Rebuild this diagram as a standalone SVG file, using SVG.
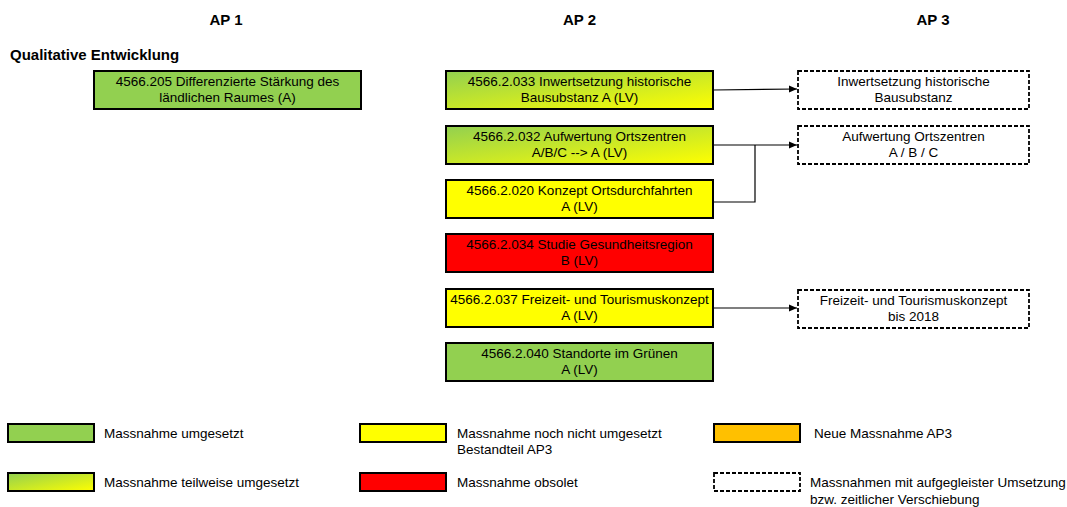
<svg xmlns="http://www.w3.org/2000/svg" width="1067" height="507" viewBox="0 0 1067 507">
  <defs>
    <linearGradient id="partial" x1="0" y1="0" x2="1" y2="1">
      <stop offset="0" stop-color="#92D050"/>
      <stop offset="1" stop-color="#FFFF00"/>
    </linearGradient>
    <marker id="arrow" markerWidth="8" markerHeight="8" refX="8" refY="4" orient="auto" markerUnits="userSpaceOnUse">
      <path d="M0,0.5 L8,4 L0,7.5 Z" fill="#000"/>
    </marker>
  </defs>
  <style>
    text { font-family: "Liberation Sans", Arial, sans-serif; font-size: 13.5px; fill: #000; }
    .hdr { font-weight: bold; font-size: 15px; }
    .c { text-anchor: middle; }
    .box { stroke: #000; stroke-width: 2; }
    .done { fill: #92D050; }
    .part { fill: url(#partial); }
    .open { fill: #FFFF00; }
    .obs { fill: #FF0000; }
    .new { fill: #FFC000; }
    .dash { fill: #fff; stroke: #000; stroke-width: 1.8; stroke-dasharray: 4 2; }
    .conn { fill: none; stroke: #000; stroke-width: 1.2; }
  </style>
  <rect width="1067" height="507" fill="#fff"/>

  <!-- column headers -->
  <g id="headers">
    <text class="hdr c" x="226" y="25">AP 1</text>
    <text class="hdr c" x="579.5" y="25">AP 2</text>
    <text class="hdr c" x="933" y="25">AP 3</text>
    <text class="hdr" x="10" y="60">Qualitative Entwicklung</text>
  </g>

  <!-- AP 1 -->
  <g id="n4566-205">
    <rect class="box done" x="94" y="71" width="267" height="38"/>
    <text class="c" x="227.5" y="86">4566.205 Differenzierte Stärkung des</text>
    <text class="c" x="227.5" y="102">ländlichen Raumes (A)</text>
  </g>

  <!-- AP 2 -->
  <g id="n4566-2-033">
    <rect class="box part" x="446" y="71" width="267" height="38"/>
    <text class="c" x="579.5" y="86">4566.2.033 Inwertsetzung historische</text>
    <text class="c" x="579.5" y="102">Bausubstanz A (LV)</text>
  </g>
  <g id="n4566-2-032">
    <rect class="box part" x="446" y="126" width="267" height="38"/>
    <text class="c" x="579.5" y="141">4566.2.032 Aufwertung Ortszentren</text>
    <text class="c" x="579.5" y="157">A/B/C --&gt; A (LV)</text>
  </g>
  <g id="n4566-2-020">
    <rect class="box open" x="446" y="180" width="267" height="38"/>
    <text class="c" x="579.5" y="195">4566.2.020 Konzept Ortsdurchfahrten</text>
    <text class="c" x="579.5" y="211">A (LV)</text>
  </g>
  <g id="n4566-2-034">
    <rect class="box obs" x="446" y="234" width="267" height="38"/>
    <text class="c" x="579.5" y="249">4566.2.034 Studie Gesundheitsregion</text>
    <text class="c" x="579.5" y="265">B (LV)</text>
  </g>
  <g id="n4566-2-037">
    <rect class="box open" x="446" y="289" width="267" height="38"/>
    <text class="c" x="579.5" y="304">4566.2.037 Freizeit- und Tourismuskonzept</text>
    <text class="c" x="579.5" y="320">A (LV)</text>
  </g>
  <g id="n4566-2-040">
    <rect class="box done" x="446" y="343" width="267" height="38"/>
    <text class="c" x="579.5" y="358">4566.2.040 Standorte im Grünen</text>
    <text class="c" x="579.5" y="374">A (LV)</text>
  </g>

  <!-- AP 3 -->
  <g id="ap3-inwertsetzung">
    <rect class="dash" x="798" y="71" width="231" height="38"/>
    <text class="c" x="913.5" y="86">Inwertsetzung historische</text>
    <text class="c" x="913.5" y="102">Bausubstanz</text>
  </g>
  <g id="ap3-ortszentren">
    <rect class="dash" x="798" y="126" width="231" height="38"/>
    <text class="c" x="913.5" y="141">Aufwertung Ortszentren</text>
    <text class="c" x="913.5" y="157">A / B / C</text>
  </g>
  <g id="ap3-tourismus">
    <rect class="dash" x="798" y="290" width="231" height="38"/>
    <text class="c" x="913.5" y="305">Freizeit- und Tourismuskonzept</text>
    <text class="c" x="913.5" y="321">bis 2018</text>
  </g>

  <!-- connectors -->
  <g id="connectors">
    <path class="conn" d="M713,90 L797,89" marker-end="url(#arrow)"/>
    <path class="conn" d="M713,145 L797,145" marker-end="url(#arrow)"/>
    <path class="conn" d="M713,202 L755,202 L755,145"/>
    <path class="conn" d="M713,308 L797,308" marker-end="url(#arrow)"/>
  </g>

  <!-- legend -->
  <g id="legend">
    <rect class="box done" x="8" y="424" width="86" height="18"/>
    <text x="104" y="438">Massnahme umgesetzt</text>
    <rect class="box part" x="8" y="473" width="86" height="18"/>
    <text x="104" y="487">Massnahme teilweise umgesetzt</text>

    <rect class="box open" x="360" y="424" width="86" height="18"/>
    <text x="457" y="438">Massnahme noch nicht umgesetzt</text>
    <text x="457" y="454">Bestandteil AP3</text>
    <rect class="box obs" x="360" y="473" width="86" height="18"/>
    <text x="457" y="487">Massnahme obsolet</text>

    <rect class="box new" x="714" y="424" width="86" height="18"/>
    <text x="814" y="438">Neue Massnahme AP3</text>
    <rect class="dash" x="714" y="473" width="86" height="18"/>
    <text x="810" y="487">Massnahmen mit aufgegleister Umsetzung</text>
    <text x="810" y="504">bzw. zeitlicher Verschiebung</text>
  </g>
</svg>
